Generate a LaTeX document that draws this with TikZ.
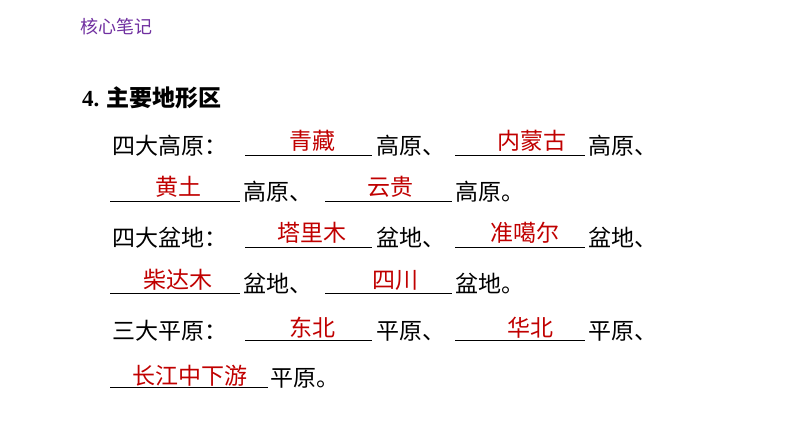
\documentclass[tikz,border=0pt]{standalone}
\usepackage{fontspec}
\setmainfont{Liberation Serif}
\newfontfamily\cjk{Noto Sans CJK SC}
\definecolor{ans}{HTML}{C00000}
\definecolor{hdr}{HTML}{7030A0}
\tikzset{
  txt/.style={anchor=base west,inner sep=0pt,font=\cjk\fontsize{23}{23}\selectfont},
  ansr/.style={anchor=base,inner sep=0pt,text=ans,font=\cjk\fontsize{23}{23}\selectfont},
  blank/.style={line width=0.8pt}
}
\begin{document}
\begin{tikzpicture}[x=1pt,y=-1pt]
\useasboundingbox (0,0) rectangle (794,447);
\node[anchor=base west,inner sep=0pt,text=hdr,font=\cjk\fontsize{18}{18}\selectfont] (h) at (80,33) {核心笔记};
\node[anchor=base west,inner sep=0pt,font=\fontsize{23}{23}\selectfont\bfseries] (t4) at (82,106) {4.};
\node[txt,font=\cjk\bfseries\fontsize{23}{23}\selectfont] (tt) at (106,106) {主要地形区};
% row 1
\node[txt] (r1a) at (112,154) {四大高原：};
\coordinate (b1s) at (245,155); \coordinate (b1e) at (372,155); \draw[blank] (b1s)--(b1e);
\node[ansr] (a1) at (312,149) {青藏};
\node[txt] (r1b) at (376,154) {高原、};
\coordinate (b2s) at (455,155); \coordinate (b2e) at (585,155); \draw[blank] (b2s)--(b2e);
\node[ansr] (a2) at (532,149) {内蒙古};
\node[txt] (r1c) at (588,154) {高原、};
% row 2
\coordinate (b3s) at (110,201); \coordinate (b3e) at (240,201); \draw[blank] (b3s)--(b3e);
\node[ansr] (a3) at (178,195) {黄土};
\node[txt] (r2a) at (243,200) {高原、};
\coordinate (b4s) at (325,201); \coordinate (b4e) at (452,201); \draw[blank] (b4s)--(b4e);
\node[ansr] (a4) at (390,195) {云贵};
\node[txt] (r2b) at (455,200) {高原。};
% row 3
\node[txt] (r3a) at (112,246) {四大盆地：};
\coordinate (b5s) at (245,247); \coordinate (b5e) at (372,247); \draw[blank] (b5s)--(b5e);
\node[ansr] (a5) at (312,241) {塔里木};
\node[txt] (r3b) at (376,246) {盆地、};
\coordinate (b6s) at (455,247); \coordinate (b6e) at (585,247); \draw[blank] (b6s)--(b6e);
\node[ansr] (a6) at (525,241) {准噶尔};
\node[txt] (r3c) at (588,246) {盆地、};
% row 4
\coordinate (b7s) at (110,293); \coordinate (b7e) at (240,293); \draw[blank] (b7s)--(b7e);
\node[ansr] (a7) at (178,288) {柴达木};
\node[txt] (r4a) at (243,292) {盆地、};
\coordinate (b8s) at (325,293); \coordinate (b8e) at (452,293); \draw[blank] (b8s)--(b8e);
\node[ansr] (a8) at (395,288) {四川};
\node[txt] (r4b) at (455,292) {盆地。};
% row 5
\node[txt] (r5a) at (112,339) {三大平原：};
\coordinate (b9s) at (245,340); \coordinate (b9e) at (372,340); \draw[blank] (b9s)--(b9e);
\node[ansr] (a9) at (312,336) {东北};
\node[txt] (r5b) at (376,339) {平原、};
\coordinate (b10s) at (455,340); \coordinate (b10e) at (585,340); \draw[blank] (b10s)--(b10e);
\node[ansr] (a10) at (530,336) {华北};
\node[txt] (r5c) at (588,339) {平原、};
% row 6
\coordinate (b11s) at (110,387); \coordinate (b11e) at (268,387); \draw[blank] (b11s)--(b11e);
\node[ansr] (a11) at (190,384) {长江中下游};
\node[txt] (r6a) at (270,386) {平原。};
\end{tikzpicture}
\end{document}
